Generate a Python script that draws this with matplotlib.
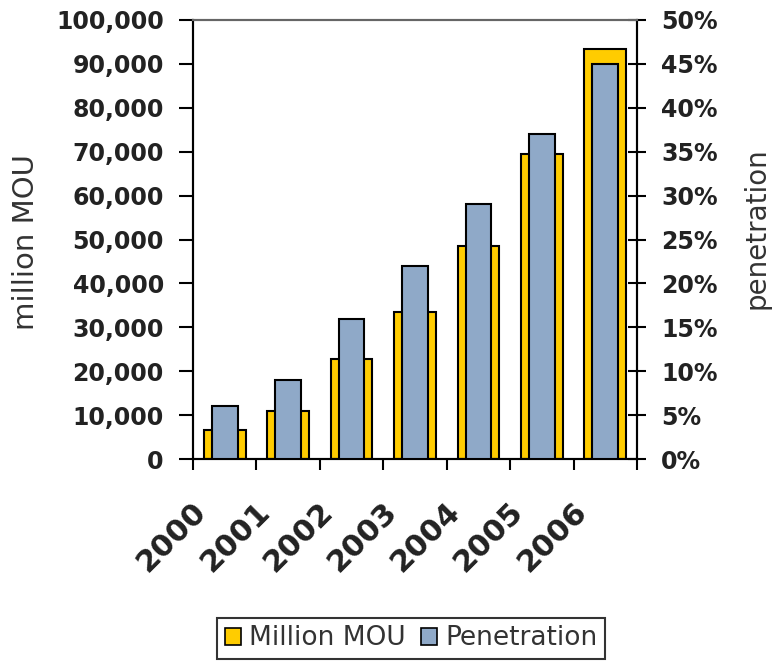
import matplotlib
matplotlib.use("Agg")
import matplotlib.pyplot as plt
from matplotlib.patches import Patch
from matplotlib.ticker import FuncFormatter, MultipleLocator
from matplotlib.transforms import ScaledTranslation
import numpy as np

years = ["2000", "2001", "2002", "2003", "2004", "2005", "2006"]
million_mou = [6500, 11000, 22800, 33500, 48600, 69400, 93500]
penetration = [6.0, 9.0, 16.0, 22.0, 29.0, 37.0, 45.0]

yellow = "#FFCC00"
blue = "#8FA9C8"
txt = "#222222"

fig = plt.figure(figsize=(7.73, 6.62), dpi=100)
ax = fig.add_axes([0.2497, 0.3066, 0.5743, 0.6632])
ax2 = ax.twinx()

x = np.arange(len(years))
ax.bar(x, million_mou, width=0.656, color=yellow, edgecolor="black", linewidth=1.5, zorder=2)
ax2.bar(x, penetration, width=0.405, color=blue, edgecolor="black", linewidth=1.5, zorder=3)

ax.set_xlim(-0.5, len(years) - 0.5)
ax.set_ylim(0, 100000)
ax2.set_ylim(0, 50)

ax.yaxis.set_major_locator(MultipleLocator(10000))
ax.yaxis.set_major_formatter(FuncFormatter(lambda v, p: f"{int(v):,}"))
ax2.yaxis.set_major_locator(MultipleLocator(5))
ax2.yaxis.set_major_formatter(FuncFormatter(lambda v, p: f"{int(v)}%"))

# ticks between categories, labels under each bar
ax.set_xticks(np.arange(-0.5, len(years)), minor=False)
ax.set_xticklabels([])
ax.set_xticks(x, minor=True)
ax.set_xticklabels(years, minor=True, rotation=45, ha="right", va="top",
                   rotation_mode="anchor", fontsize=22, fontweight="bold", color=txt)
ax.tick_params(axis="x", which="minor", length=0, pad=27)
ax.tick_params(axis="x", which="major", length=8, width=1.5, direction="out")
shift = ScaledTranslation(-0.33, 0, fig.dpi_scale_trans)
for lab in ax.get_xticklabels(minor=True):
    lab.set_transform(lab.get_transform() + shift)

ax.tick_params(axis="y", length=10, width=1.5, direction="out", labelsize=17, pad=11,
               labelcolor=txt)
ax2.tick_params(axis="y", length=13, width=1.5, direction="inout", labelsize=17, pad=11,
                labelcolor=txt)
for lab in ax.get_yticklabels() + ax2.get_yticklabels():
    lab.set_fontweight("bold")

for a in (ax, ax2):
    for side in ("left", "right", "bottom"):
        a.spines[side].set_linewidth(1.5)
    a.spines["top"].set_color("#666666")
    a.spines["top"].set_linewidth(1.5)

ax.set_ylabel("million MOU", fontsize=21, color="#333333")
ax.yaxis.set_label_coords(-0.345, 0.495)
ax2.set_ylabel("penetration", fontsize=20, color="#333333")
ax2.yaxis.set_label_coords(1.238, 0.527)

handles = [Patch(facecolor=yellow, edgecolor="black", linewidth=1.2, label="Million MOU"),
           Patch(facecolor=blue, edgecolor="black", linewidth=1.2, label="Penetration")]
leg = fig.legend(handles=handles, loc="lower center", bbox_to_anchor=(0.532, 0.0), ncol=2,
                 fontsize=19, frameon=True, fancybox=False, handlelength=0.6, handleheight=0.6,
                 handletextpad=0.3, columnspacing=0.6, borderpad=0.3, borderaxespad=0.1)
leg.get_frame().set_edgecolor("black")
leg.get_frame().set_linewidth(1.5)
for t in leg.get_texts():
    t.set_color("#333333")

fig.savefig("out.png", dpi=100)
